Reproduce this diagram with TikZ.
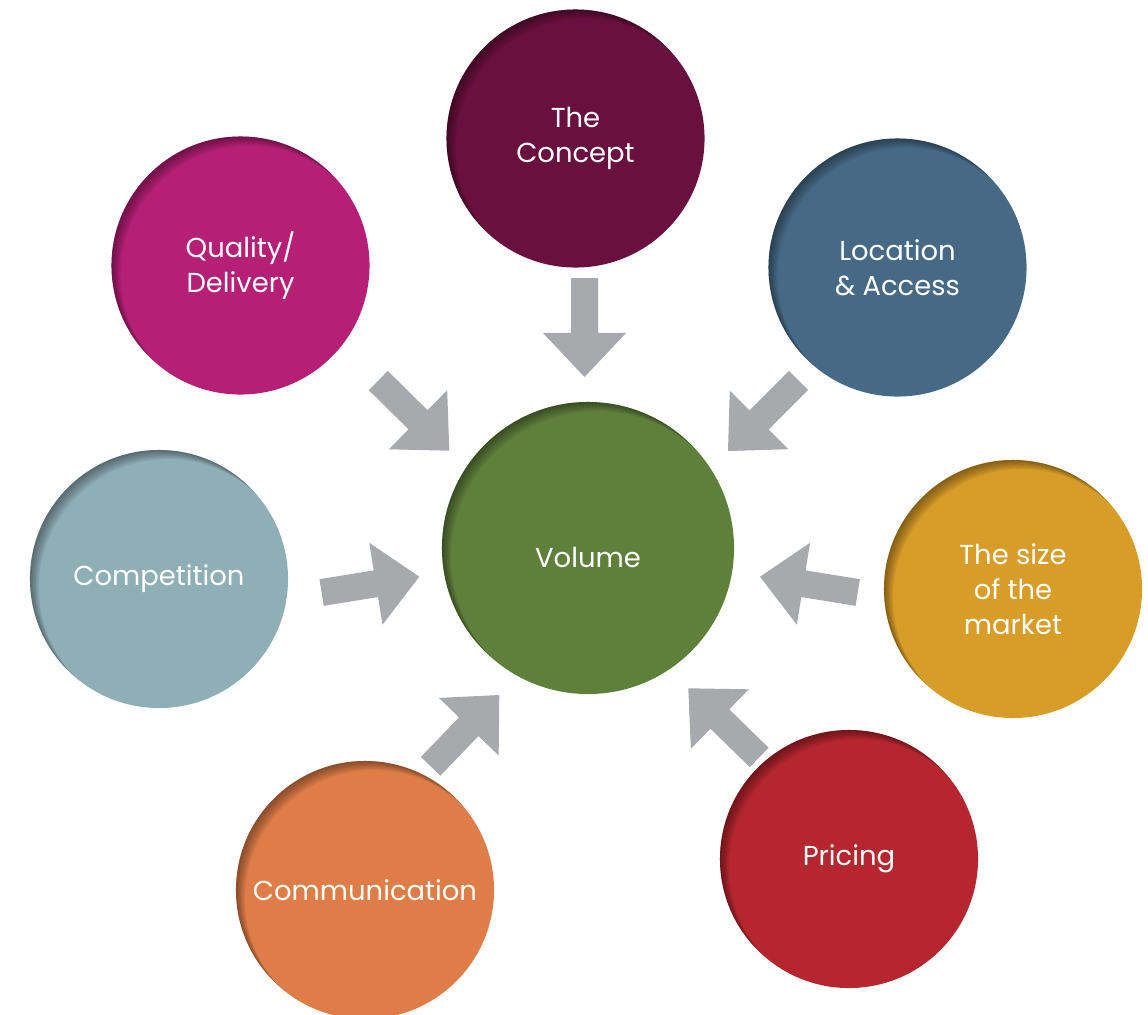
\documentclass[tikz,border=0pt]{standalone}
\usepackage{fontspec}
\setmainfont{Poppins}
\usetikzlibrary{calc}
\definecolor{volgreen}{HTML}{5F803B}
\definecolor{concept}{HTML}{6A103E}
\definecolor{location}{HTML}{466A86}
\definecolor{market}{HTML}{D89C28}
\definecolor{pricing}{HTML}{B5262F}
\definecolor{commun}{HTML}{DF7D48}
\definecolor{compet}{HTML}{8FAFB7}
\definecolor{quality}{HTML}{B51F76}
\definecolor{arrowgray}{HTML}{A7A9AC}
\tikzstyle{ball}=[circle, minimum size=6.45cm, inner sep=0pt, text=white, align=center,
  font=\fontsize{19.5}{25}\selectfont,
  path picture={\foreach \k in {1,...,6}
    \fill[black,opacity=0.07,even odd rule] let \p1=(path picture bounding box.east),
      \p2=(path picture bounding box.center) in
      (\p2) circle ({\x1-\x2+20pt}) ($(\p2)+(1.5*\k,1.5*\k)$) circle ({\x1-\x2});}]
\tikzstyle{big}=[minimum size=7.3cm]
\newcommand{\blockarrow}[2]{%
  \coordinate (hb) at ($(#2)!1.1cm!(#1)$);
  \fill[arrowgray] ($(#1)!0.3375cm!90:(#2)$) -- ($(hb)!0.3375cm!-90:(#1)$)
    -- ($(hb)!1.0375cm!-90:(#1)$) -- (#2) -- ($(hb)!1.0375cm!90:(#1)$)
    -- ($(hb)!0.3375cm!90:(#1)$) -- ($(#1)!0.3375cm!-90:(#2)$) -- cycle;}

\begin{document}
\begin{tikzpicture}[x=0.025cm,y=-0.025cm]
  \useasboundingbox (0,0) rectangle (1148,1014);
  \node[ball,big,fill=volgreen] (vol) at (588,548) {\smash{\raisebox{-0.48cm}{Volume}}};
  \node[ball,fill=concept] (concept) at (575.5,138.5) {The\\Concept};
  \node[ball,fill=location] (loc) at (897.5,267.5) {Location\\\& Access};
  \node[ball,fill=market] (size) at (1013,589) {The size\\of the\\market};
  \node[ball,fill=pricing] (price) at (849,859) {Pricing};
  \node[ball,fill=commun] (comm) at (365,890) {Communication};
  \node[ball,fill=compet] (comp) at (159,579) {Competition};
  \node[ball,fill=quality] (qual) at (240.5,265.5) {Quality/\\Delivery};

  \coordinate (a1) at (584.5,278);   \coordinate (b1) at (584.5,377);
  \coordinate (a2) at (798.5,380.5); \coordinate (b2) at (728,451);
  \coordinate (a3) at (857.7,592.5); \coordinate (b3) at (760,576.7);
  \coordinate (a4) at (759.2,757.4); \coordinate (b4) at (688.3,688.3);
  \coordinate (a5) at (430.6,766.3); \coordinate (b5) at (499.3,695);
  \coordinate (a6) at (321.6,592.5); \coordinate (b6) at (419.3,576.7);
  \coordinate (a7) at (378.3,380.5); \coordinate (b7) at (449.3,450.7);
  \foreach \i in {1,...,7} \blockarrow{a\i}{b\i};
\end{tikzpicture}
\end{document}
